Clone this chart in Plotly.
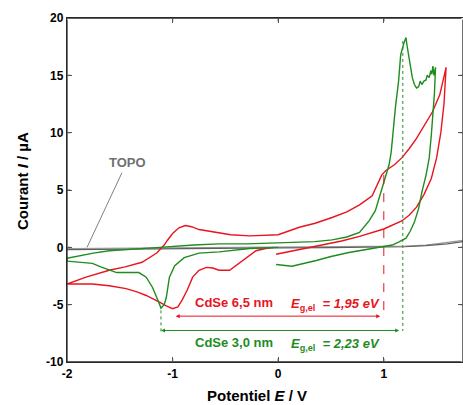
import plotly.graph_objects as go

# ---------------- data ----------------
red_x = [-0.02, 0.2, 0.4, 0.6, 0.77, 1.0, 1.17, 1.24, 1.31, 1.38, 1.45, 1.50, 1.54, 1.57, 1.59,
         1.53, 1.46, 1.38, 1.31, 1.24, 1.17, 1.10, 1.02, 0.98, 0.94, 0.89, 0.83, 0.77, 0.65, 0.51,
         0.35, 0.2, 0.0, -0.27, -0.45, -0.59, -0.75, -0.82, -0.88, -0.94, -1.0, -1.05, -1.08,
         -1.15, -1.22, -1.29, -1.45, -1.6, -1.82, -2.0,
         -2.0, -1.76, -1.6, -1.44, -1.33, -1.25, -1.18, -1.12, -1.06, -1.0, -0.95, -0.91, -0.86,
         -0.81, -0.75, -0.68, -0.62, -0.56, -0.46, -0.40, -0.34, -0.27, -0.21, -0.12, -0.05]
red_y = [-0.6, -0.2, 0.15, 0.55, 0.95, 1.6, 2.3, 2.8, 3.5, 4.6, 6.0, 7.8, 10.0, 12.5, 15.7,
         13.3, 11.8, 10.6, 9.5, 8.6, 7.8, 7.2, 6.7, 6.3, 5.5, 4.5, 4.1, 3.7, 3.1, 2.6,
         2.1, 1.75, 1.1, 1.0, 1.1, 1.3, 1.55, 1.8, 1.9, 1.7, 1.2, 0.6, 0.2,
         -0.5, -0.9, -1.3, -1.7, -2.0, -2.6, -3.15,
         -3.2, -3.2, -3.35, -3.6, -3.9, -4.2, -4.5, -4.8, -5.1, -5.35, -5.2, -4.6, -3.7,
         -2.6, -2.0, -1.75, -1.8, -2.0, -2.0, -1.6, -1.15, -0.7, -0.3, -0.1, 0.0]

green_x = [-0.02, 0.13, 0.36, 0.5, 0.67, 0.85, 0.99, 1.08, 1.14, 1.21, 1.25, 1.29, 1.33, 1.36,
           1.40, 1.43, 1.45, 1.47, 1.48, 1.49,
           1.475, 1.465, 1.455, 1.445, 1.43, 1.41, 1.40, 1.38, 1.36, 1.345, 1.33, 1.31, 1.29,
           1.27, 1.25, 1.24, 1.22, 1.21, 1.19, 1.16, 1.14, 1.11, 1.09, 1.07, 1.05, 1.02,
           0.96, 0.92, 0.86, 0.77, 0.65, 0.51, 0.35, 0.2, 0.0, -0.3, -0.56, -0.8, -1.12,
           -1.35, -1.6, -1.75, -1.88, -2.0,
           -2.0, -1.88, -1.76, -1.68, -1.6, -1.53, -1.41, -1.32, -1.25, -1.19, -1.14, -1.11,
           -1.08, -1.06, -1.03, -0.98, -0.89, -0.75, -0.56, -0.27, 0.0]
green_y = [-1.5, -1.65, -1.15, -0.8, -0.45, -0.15, 0.1, 0.2, 0.45, 0.8, 1.4, 2.2, 3.4, 4.8,
           6.3, 7.8, 9.8, 11.8, 13.5, 15.7,
           15.0, 15.8, 15.1, 15.4, 14.8, 15.0, 14.6, 14.5, 14.2, 14.5, 14.0, 13.9, 14.2,
           14.8, 15.8, 16.5, 17.6, 18.3, 17.8, 16.8, 14.5, 12.2, 10.2, 8.3, 7.2, 6.3,
           4.3, 3.2, 2.3, 1.3, 0.9, 0.65, 0.5, 0.45, 0.35, 0.3, 0.3, 0.2, 0.0,
           -0.15, -0.3, -0.5, -0.7, -0.95,
           -1.2, -1.3, -1.4, -1.7, -2.0, -2.2, -2.2, -2.2, -2.6, -3.5, -4.6, -5.3,
           -5.0, -4.4, -2.6, -1.6, -0.9, -0.5, -0.4, -0.1, 0.0]

topo_x = [-2.0, -1.0, 0.0, 0.5, 1.0, 1.2, 1.4, 1.6, 1.75]
topo_y1 = [-0.1, -0.03, 0.0, 0.02, 0.05, 0.1, 0.2, 0.4, 0.6]
topo_y2 = [-0.2, -0.1, -0.05, -0.03, 0.0, 0.05, 0.15, 0.3, 0.5]

# onset potentials (V) and gap labels
red_onsets = [-0.97, 1.0]
green_onsets = [-1.11, 1.18]
red_label = "CdSe 6,5 nm"
green_label = "CdSe 3,0 nm"
red_gap = "1,95"
green_gap = "2,23"

x_range = [-2, 1.75]
y_range = [-10, 20]
x_ticks = [-2, -1, 0, 1]
y_ticks = [-10, -5, 0, 5, 10, 15, 20]

RED = "#e8141e"
GREEN = "#1e8c1e"
GRAY = "#606060"
AXC = "#2a2a2a"
FONT = "Liberation Sans, Arial, sans-serif"

fig = go.Figure()

fig.add_trace(go.Scatter(x=topo_x, y=topo_y1, mode="lines",
                         line=dict(color="#9a9a9a", width=1.2), hoverinfo="skip"))
fig.add_trace(go.Scatter(x=topo_x, y=topo_y2, mode="lines",
                         line=dict(color=GRAY, width=1.2), hoverinfo="skip"))
fig.add_trace(go.Scatter(x=red_x, y=red_y, mode="lines",
                         line=dict(color=RED, width=1.4), hoverinfo="skip"))
fig.add_trace(go.Scatter(x=green_x, y=green_y, mode="lines",
                         line=dict(color=GREEN, width=1.4), hoverinfo="skip"))

fig.add_trace(go.Scatter(x=[red_onsets[1], red_onsets[1]], y=[6.3, -6.0], mode="lines",
                         line=dict(color=RED, width=1, dash="dash"), hoverinfo="skip"))
fig.add_trace(go.Scatter(x=[green_onsets[1], green_onsets[1]], y=[18.0, -7.3], mode="lines",
                         line=dict(color=GREEN, width=1, dash="dot"), hoverinfo="skip"))
fig.add_trace(go.Scatter(x=[green_onsets[0], green_onsets[0]], y=[-5.5, -7.5], mode="lines",
                         line=dict(color=GREEN, width=1, dash="dot"), hoverinfo="skip"))
fig.add_trace(go.Scatter(x=[-1.48, -1.81], y=[6.5, 0.0], mode="lines",
                         line=dict(color="#808080", width=1), hoverinfo="skip"))

annotations = []
annotations.append(dict(x=red_onsets[0], y=-6.0, ax=red_onsets[1] - 0.02, ay=-6.0,
                        xref="x", yref="y", axref="x", ayref="y", text="",
                        showarrow=True, arrowhead=2, arrowside="end+start",
                        arrowsize=0.8, arrowwidth=1, arrowcolor=RED))
annotations.append(dict(x=green_onsets[0], y=-7.25, ax=green_onsets[1] - 0.02, ay=-7.25,
                        xref="x", yref="y", axref="x", ayref="y", text="",
                        showarrow=True, arrowhead=2, arrowside="end+start",
                        arrowsize=0.8, arrowwidth=1, arrowcolor=GREEN))
annotations.append(dict(x=-0.81, y=-4.8, xref="x", yref="y", xanchor="left", yanchor="middle",
                        text="<b>" + red_label + "</b>", showarrow=False,
                        font=dict(family=FONT, size=13, color=RED)))
annotations.append(dict(x=0.10, y=-4.95, xref="x", yref="y", xanchor="left", yanchor="middle",
                        text="<b><i>E</i><sub>g,el</sub>  <i>= " + red_gap + " eV</i></b>",
                        showarrow=False, font=dict(family=FONT, size=13, color=RED)))
annotations.append(dict(x=-0.81, y=-8.3, xref="x", yref="y", xanchor="left", yanchor="middle",
                        text="<b>" + green_label + "</b>", showarrow=False,
                        font=dict(family=FONT, size=13, color=GREEN)))
annotations.append(dict(x=0.10, y=-8.45, xref="x", yref="y", xanchor="left", yanchor="middle",
                        text="<b><i>E</i><sub>g,el</sub>  <i>= " + green_gap + " eV</i></b>",
                        showarrow=False, font=dict(family=FONT, size=13, color=GREEN)))
annotations.append(dict(x=-1.43, y=7.4, xref="x", yref="y", text="<b>TOPO</b>", showarrow=False,
                        font=dict(family=FONT, size=13, color="#707070")))
annotations.append(dict(x=(257 - 67) / 396, y=-(395 - 362) / 344, xref="paper", yref="paper",
                        text="<b>Potentiel <i>E</i> / V</b>", showarrow=False,
                        xanchor="center", yanchor="middle",
                        font=dict(family=FONT, size=15, color="black")))
annotations.append(dict(x=-(67 - 23) / 396, y=(362 - 181) / 344, xref="paper", yref="paper",
                        text="<b>Courant <i>I</i> / µA</b>", showarrow=False, textangle=-90,
                        xanchor="center", yanchor="middle",
                        font=dict(family=FONT, size=15, color="black")))

# frame edges drawn as head-less annotation lines (from the axis ranges)
x0, x1 = x_range
y0, y1 = y_range
for (px, py, qx, qy) in [(x0, y0, x1, y0), (x0, y1, x1, y1), (x0, y0, x0, y1), (x1, y0, x1, y1)]:
    annotations.append(dict(x=px, y=py, ax=qx, ay=qy, xref="x", yref="y", axref="x", ayref="y",
                            text="", showarrow=True, arrowhead=0, arrowwidth=1.3,
                            arrowcolor=AXC, standoff=0, startstandoff=0))
# inside tick marks, generated from the tick arrays
TL = 5
for v in x_ticks:
    if x0 < v < x1:
        annotations.append(dict(x=v, y=y0, ax=0, ay=-TL, xref="x", yref="y", text="",
                                showarrow=True, arrowhead=0, arrowwidth=1.2, arrowcolor="#555555"))
        annotations.append(dict(x=v, y=y1, ax=0, ay=TL, xref="x", yref="y", text="",
                                showarrow=True, arrowhead=0, arrowwidth=1.2, arrowcolor="#555555"))
for v in y_ticks:
    if y0 < v < y1:
        annotations.append(dict(x=x0, y=v, ax=TL, ay=0, xref="x", yref="y", text="",
                                showarrow=True, arrowhead=0, arrowwidth=1.2, arrowcolor="#555555"))
        annotations.append(dict(x=x1, y=v, ax=-TL, ay=0, xref="x", yref="y", text="",
                                showarrow=True, arrowhead=0, arrowwidth=1.2, arrowcolor="#555555"))

axis_common = dict(showline=True, linecolor=AXC, linewidth=1.3, mirror="allticks",
                   ticks="inside", ticklen=TL, tickcolor="#555555", tickwidth=1.2,
                   showgrid=False, zeroline=False,
                   tickfont=dict(family=FONT, size=12, color="black"))

fig.update_layout(
    width=463, height=405,
    margin=dict(l=67, r=0, t=18, b=43, autoexpand=False),
    plot_bgcolor="white", paper_bgcolor="white",
    showlegend=False,
    xaxis=dict(range=x_range, tickvals=x_ticks,
               ticktext=["<b>%d</b>" % v for v in x_ticks], **axis_common),
    yaxis=dict(range=y_range, tickvals=y_ticks,
               ticktext=["<b>%d</b>" % v for v in y_ticks], **axis_common),
    annotations=annotations,
)

post_js = """
document.body.style.margin='0';
document.body.style.overflow='hidden';
"""

fig.write_html("out.html", config={"displayModeBar": False}, post_script=post_js)
